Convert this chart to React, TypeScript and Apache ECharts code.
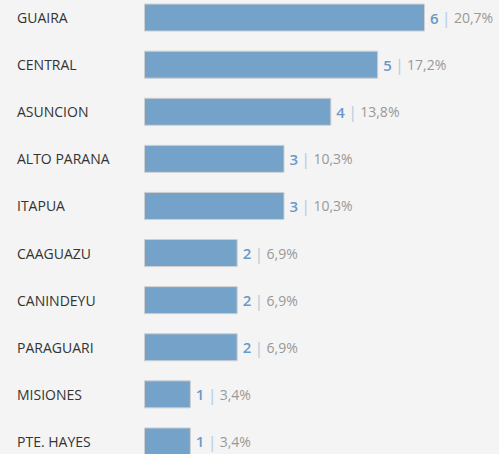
import React, { useEffect, useRef } from "react";
import * as echarts from "echarts";

const categories = ["GUAIRA", "CENTRAL", "ASUNCION", "ALTO PARANA", "ITAPUA", "CAAGUAZU", "CANINDEYU", "PARAGUARI", "MISIONES", "PTE. HAYES"];
const counts = [6, 5, 4, 3, 3, 2, 2, 2, 1, 1];
const percents = ["20,7%", "17,2%", "13,8%", "10,3%", "10,3%", "6,9%", "6,9%", "6,9%", "3,4%", "3,4%"];

export default function App() {
  const ref = useRef<HTMLDivElement>(null);
  useEffect(() => {
    document.body.style.margin = "0";
    document.body.style.overflow = "hidden";
    document.body.style.background = "#f4f4f4";
    const chart = echarts.init(ref.current!, null, { renderer: "svg" });
    chart.setOption({
      animation: false,
      backgroundColor: "#f4f4f4",
      grid: { left: 144, width: 281, top: 0, height: 471, containLabel: false },
      xAxis: { type: "value", min: 0, max: 6, show: false },
      yAxis: {
        type: "category",
        data: categories,
        inverse: true,
        axisLine: { show: false },
        axisTick: { show: false },
        splitLine: { show: false },
        axisLabel: {
          align: "left",
          margin: 127,
          color: "#333333",
          fontSize: 14,
          fontFamily: "Open Sans",
        },
      },
      series: [
        {
          type: "bar",
          data: counts,
          barWidth: 28,
          itemStyle: { color: "#74a2c9", borderColor: "#cfcfcf", borderWidth: 1 },
          label: {
            show: true,
            position: "right",
            distance: 5,
            fontFamily: "Open Sans",
            formatter: (p: any) => `{n|${p.value}}{s||}{p|${percents[p.dataIndex]}}`,
            rich: {
              n: { color: "#6a99c8", fontSize: 15, fontWeight: 600, fontFamily: "Open Sans" },
              s: { color: "#b8cde0", fontSize: 17, fontFamily: "Open Sans", padding: [0, 3, 0, 3] },
              p: { color: "#999999", fontSize: 14, fontFamily: "Open Sans" },
            },
          },
        },
      ],
    });
    return () => chart.dispose();
  }, []);
  return <div ref={ref} style={{ position: "fixed", left: 0, top: -6.5, width: 499, height: 471 }} />;
}
